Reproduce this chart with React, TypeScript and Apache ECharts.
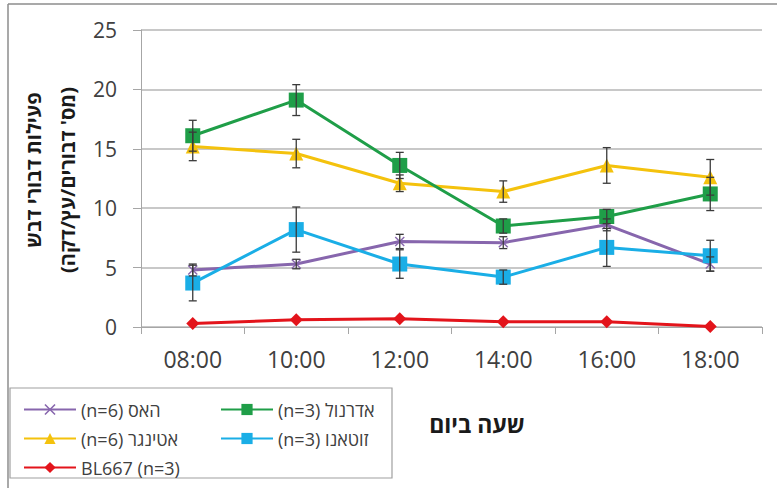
import React, { useEffect, useRef } from "react";
import * as echarts from "echarts";

// Hours of the day (x axis)
const hours = ["08:00", "10:00", "12:00", "14:00", "16:00", "18:00"];

// Series names, written in their visual order
const nameHass = "(n=6) האס";
const nameAdrenol = "(n=3) אדרנול";
const nameEttinger = "(n=6) אטינגר";
const nameZutano = "(n=3) זוטאנו";
const nameBL = "BL667 (n=3)";

// Mean bee activity (bees / tree / minute)
const hassValues = [4.8, 5.3, 7.2, 7.1, 8.6, 5.3];
const adrenolValues = [16.1, 19.1, 13.6, 8.5, 9.3, 11.2];
const ettingerValues = [15.2, 14.6, 12.1, 11.4, 13.6, 12.6];
const zutanoValues = [3.7, 8.2, 5.3, 4.2, 6.7, 6.0];
const blValues = [0.3, 0.6, 0.7, 0.45, 0.45, 0.05];

// Standard error half-widths
const hassErr = [0.5, 0.4, 0.6, 0.5, 0.5, 0.6];
const adrenolErr = [1.3, 1.3, 1.1, 0.6, 0.6, 1.4];
const ettingerErr = [1.2, 1.2, 0.7, 0.9, 1.5, 1.5];
const zutanoErr = [1.5, 1.9, 1.2, 0.6, 1.6, 1.3];

const yTicks = [0, 5, 10, 15, 20, 25];

const yTitleLine1 = "פעילות דבורי דבש";
const yTitleLine2 = "(מס' דבורים/עץ/דקה)";
const xTitle = "שעה ביום";

const FONT = "'Open Sans', 'DejaVu Sans', sans-serif";

const C_PURPLE = "#8766ad";
const C_GREEN = "#1f9e48";
const C_YELLOW = "#f4c20d";
const C_BLUE = "#1aaee6";
const C_RED = "#e3141b";

const crossSymbol =
  "path://M1,0 L5,4 L9,0 L10,1 L6,5 L10,9 L9,10 L5,6 L1,10 L0,9 L4,5 L0,1 Z";

function errorSeries(values: number[], errs: number[], id: string) {
  const data = values.map((v, i) => [i, v - errs[i], v + errs[i]]);
  return {
    type: "custom",
    id,
    z: 5,
    silent: true,
    data,
    encode: { x: 0, y: [1, 2] },
    renderItem: (params: any, api: any) => {
      const x = api.value(0);
      const lo = api.coord([x, api.value(1)]);
      const hi = api.coord([x, api.value(2)]);
      const cap = 4;
      const style = { stroke: "#3a3a3a", lineWidth: 1.3 };
      return {
        type: "group",
        children: [
          { type: "line", shape: { x1: lo[0], y1: lo[1], x2: hi[0], y2: hi[1] }, style },
          { type: "line", shape: { x1: lo[0] - cap, y1: lo[1], x2: lo[0] + cap, y2: lo[1] }, style },
          { type: "line", shape: { x1: hi[0] - cap, y1: hi[1], x2: hi[0] + cap, y2: hi[1] }, style },
        ],
      };
    },
  };
}

function lineSeries(name: string, values: number[], color: string, symbol: string, size: number) {
  return {
    type: "line",
    name,
    data: values,
    symbol,
    symbolSize: size,
    z: 3,
    lineStyle: { color, width: 3 },
    itemStyle: { color },
  };
}

export default function App() {
  const ref = useRef<HTMLDivElement>(null);

  useEffect(() => {
    document.body.style.margin = "0";
    if (!ref.current) return;
    const chart = echarts.init(ref.current, undefined, { renderer: "svg" });

    const legendText = { fontFamily: FONT, fontSize: 18, color: "#404040", lineHeight: 19 };

    chart.setOption({
      animation: false,
      backgroundColor: "#ffffff",
      grid: { left: 141, right: 15, top: 30, bottom: 161 },
      xAxis: {
        type: "category",
        data: hours,
        boundaryGap: true,
        axisLine: { lineStyle: { color: "#a6a6a6", width: 1 } },
        axisTick: { show: true, length: 7, lineStyle: { color: "#a6a6a6" } },
        axisLabel: { fontFamily: FONT, fontSize: 23, color: "#404040", margin: 20 },
      },
      yAxis: {
        type: "value",
        min: yTicks[0],
        max: yTicks[yTicks.length - 1],
        interval: 5,
        axisLine: { show: true, lineStyle: { color: "#a6a6a6", width: 1 } },
        axisTick: { show: true, length: 8, lineStyle: { color: "#a6a6a6" } },
        axisLabel: { fontFamily: FONT, fontSize: 21, color: "#404040", margin: 24 },
        splitLine: { lineStyle: { color: "#c8c8c8", width: 2 } },
      },
      legend: [
        {
          left: 18,
          top: 395,
          orient: "vertical",
          itemWidth: 52,
          itemHeight: 14,
          itemGap: 10,
          textStyle: legendText,
          data: [nameHass, nameEttinger, nameBL],
        },
        {
          left: 215,
          top: 395,
          orient: "vertical",
          itemWidth: 52,
          itemHeight: 14,
          itemGap: 10,
          textStyle: legendText,
          data: [nameAdrenol, nameZutano],
        },
      ],
      graphic: [
        { type: "line", shape: { x1: 8, y1: 4, x2: 777, y2: 4 }, style: { stroke: "#8c8c8c", lineWidth: 1.5 }, silent: true },
        { type: "line", shape: { x1: 8, y1: 4, x2: 8, y2: 488 }, style: { stroke: "#8c8c8c", lineWidth: 1.5 }, silent: true },
        {
          type: "rect",
          shape: { x: 10, y: 388, width: 382, height: 90 },
          style: { fill: "none", stroke: "#a0a0a0", lineWidth: 1.2 },
          silent: true,
        },
        {
          type: "text",
          x: 33,
          y: 170,
          rotation: Math.PI / 2,
          style: {
            text: yTitleLine1,
            fontFamily: FONT,
            fontSize: 20,
            fontWeight: "bold",
            fill: "#1a1a1a",
            textAlign: "center",
            textVerticalAlign: "middle",
          },
        },
        {
          type: "text",
          x: 67,
          y: 180,
          rotation: Math.PI / 2,
          style: {
            text: yTitleLine2,
            fontFamily: FONT,
            fontSize: 20,
            fontWeight: "bold",
            fill: "#1a1a1a",
            textAlign: "center",
            textVerticalAlign: "middle",
          },
        },
        {
          type: "text",
          x: 477,
          y: 424,
          style: {
            text: xTitle,
            fontFamily: FONT,
            fontSize: 23,
            fontWeight: "bold",
            fill: "#1a1a1a",
            textAlign: "center",
            textVerticalAlign: "middle",
          },
        },
      ],
      series: [
        lineSeries(nameHass, hassValues, C_PURPLE, crossSymbol, 10),
        lineSeries(nameEttinger, ettingerValues, C_YELLOW, "triangle", 14),
        lineSeries(nameZutano, zutanoValues, C_BLUE, "rect", 15),
        lineSeries(nameAdrenol, adrenolValues, C_GREEN, "rect", 15),
        lineSeries(nameBL, blValues, C_RED, "diamond", 13),
        errorSeries(hassValues, hassErr, "errHass"),
        errorSeries(ettingerValues, ettingerErr, "errEttinger"),
        errorSeries(zutanoValues, zutanoErr, "errZutano"),
        errorSeries(adrenolValues, adrenolErr, "errAdrenol"),
      ],
    });

    return () => chart.dispose();
  }, []);

  return <div ref={ref} style={{ width: 777, height: 488 }} />;
}
